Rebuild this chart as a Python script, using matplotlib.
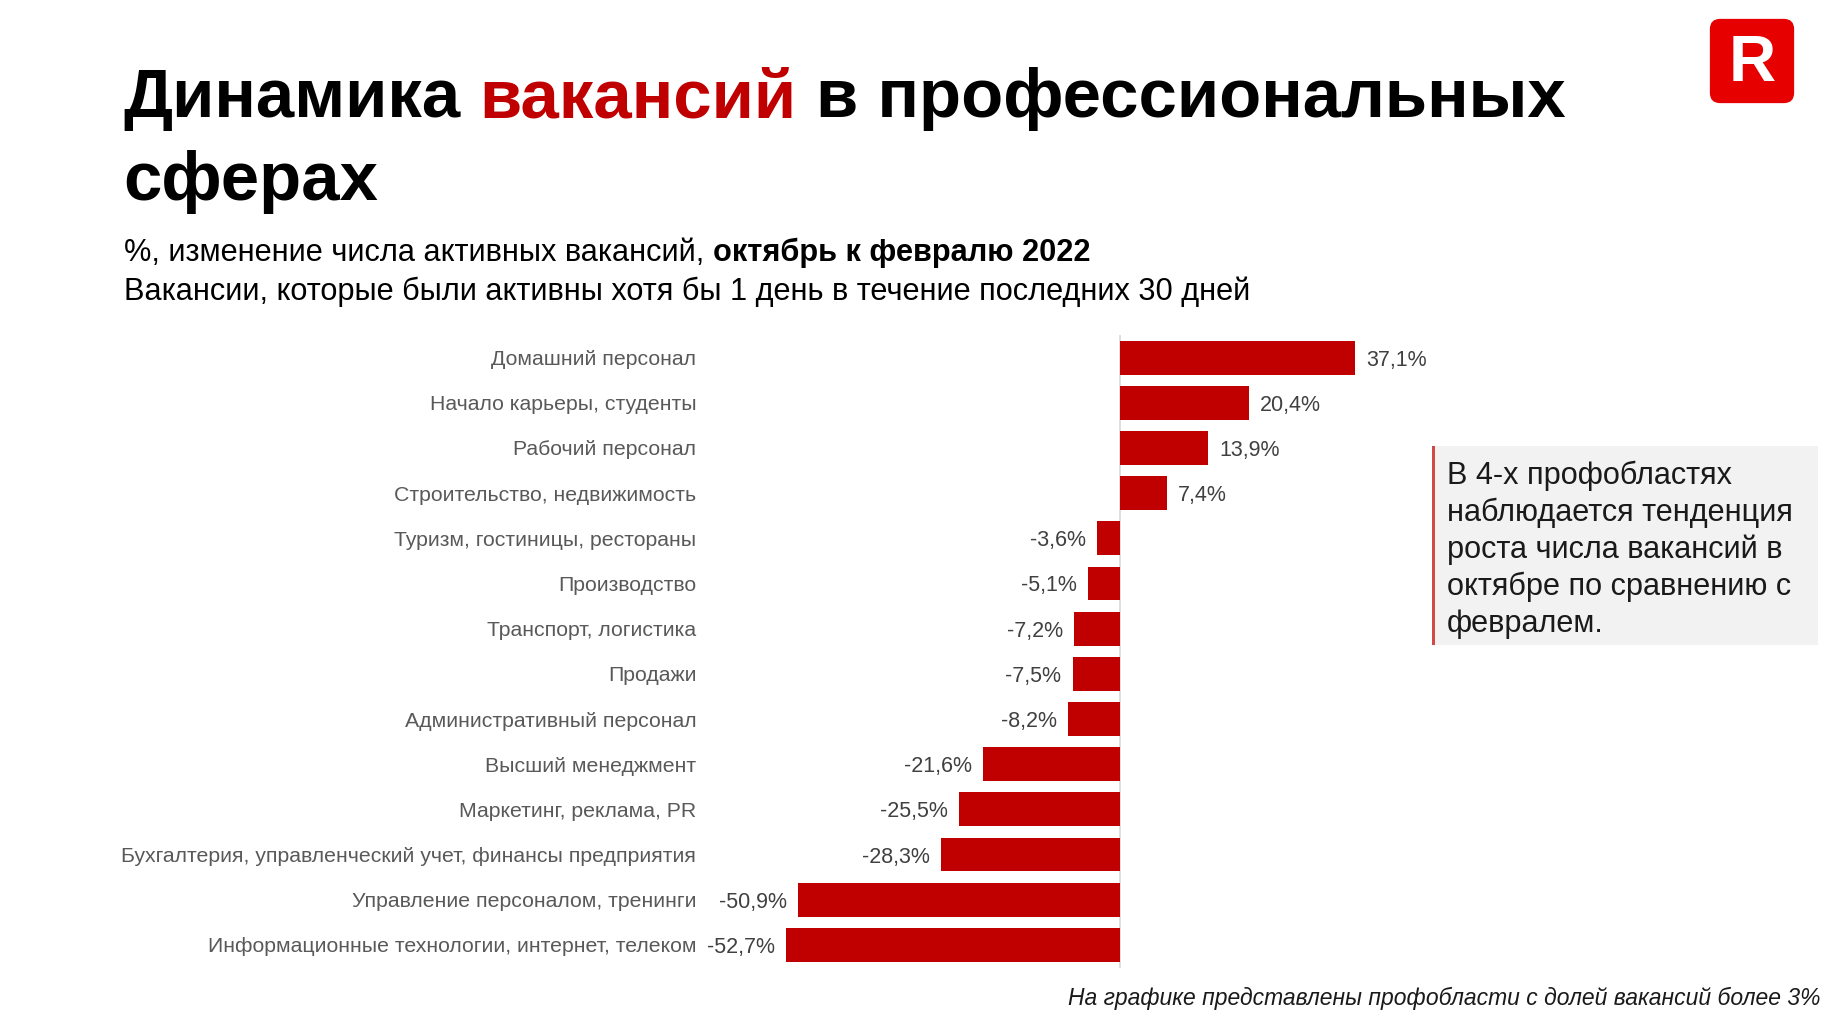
import matplotlib
matplotlib.use('Agg')
import matplotlib.pyplot as plt
from matplotlib.patches import Rectangle, FancyBboxPatch
import numpy as np

plt.rcParams['font.family'] = ['Liberation Sans', 'DejaVu Sans']

# данные
categories = [
    'Домашний персонал',
    'Начало карьеры, студенты',
    'Рабочий персонал',
    'Строительство, недвижимость',
    'Туризм, гостиницы, рестораны',
    'Производство',
    'Транспорт, логистика',
    'Продажи',
    'Административный персонал',
    'Высший менеджмент',
    'Маркетинг, реклама, PR',
    'Бухгалтерия, управленческий учет, финансы предприятия',
    'Управление персоналом, тренинги',
    'Информационные технологии, интернет, телеком',
]
values = [37.1, 20.4, 13.9, 7.4, -3.6, -5.1, -7.2, -7.5, -8.2,
          -21.6, -25.5, -28.3, -50.9, -52.7]

title_parts = [('Динамика', 'black'), ('вакансий', '#c00000'),
               ('в профессиональных', 'black')]
title_line2 = 'сферах'
subtitle_parts = [('%, изменение числа активных вакансий,', 'normal'),
                  ('октябрь к февралю 2022', 'bold')]
subtitle_line2 = 'Вакансии, которые были активны хотя бы 1 день в течение последних 30 дней'
note_lines = ['В 4-х профобластях', 'наблюдается тенденция',
              'роста числа вакансий в', 'октябре по сравнению с', 'февралем.']
footnote = 'На графике представлены профобласти с долей вакансий более 3%'

W, H = 1834, 1023
BAR = '#c00000'

fig = plt.figure(figsize=(W / 100, H / 100), dpi=100)
renderer = fig.canvas.get_renderer()


def px(x, y):
    return x / W, 1 - y / H


def space_width(size, weight):
    a = fig.text(0, 0, 'ДД', fontsize=size, fontweight=weight)
    b = fig.text(0, 0, 'Д Д', fontsize=size, fontweight=weight)
    w = b.get_window_extent(renderer).width - a.get_window_extent(renderer).width
    a.remove()
    b.remove()
    return w


def pieces(x, y, parts, size):
    for txt, color, weight in parts:
        t = fig.text(*px(x, y), txt, fontsize=size, color=color,
                     fontweight=weight, va='baseline', ha='left')
        bb = t.get_window_extent(renderer)
        x = bb.x1 + space_width(size, weight)


# заголовок
tsize = 49.6
pieces(123, 117, [(t, c, 'bold') for t, c in title_parts], tsize)
fig.text(*px(123, 200), title_line2, fontsize=tsize, fontweight='bold',
         va='baseline')

# подзаголовок
ssize = 22.15
pieces(124, 261, [(t, 'black', w) for t, w in subtitle_parts], ssize)
fig.text(*px(124, 300), subtitle_line2, fontsize=ssize, va='baseline')

# логотип
lax = fig.add_axes([1709 / W, 1 - 104 / H, 86 / W, 86 / H])
lax.set_xlim(0, 1)
lax.set_ylim(0, 1)
lax.axis('off')
lax.add_patch(FancyBboxPatch((0.01, 0.01), 0.98, 0.98,
                             boxstyle='round,pad=0,rounding_size=0.12',
                             fc='#e60000', ec='none'))
lax.text(0.5, 0.47, 'R', color='white', fontsize=47, fontweight='bold',
         ha='center', va='center')

# график
ax_left, ax_right = 706, 1405
ax_top, ax_bot = 335, 967.5
ax = fig.add_axes([ax_left / W, 1 - ax_bot / H, (ax_right - ax_left) / W,
                   (ax_bot - ax_top) / H])
y = np.arange(len(categories))
ax.barh(y, values, height=0.75, color=BAR)
ax.set_xlim((ax_left - 1120) / 6.33, (ax_right - 1120) / 6.33)
ax.set_ylim(len(categories) - 0.5, -0.5)
ax.axvline(0, color='#d9d9d9', lw=1.2, zorder=0)
for s in ax.spines.values():
    s.set_visible(False)
ax.set_xticks([])
ax.set_yticks(y)
ax.set_yticklabels(categories, fontsize=15.3, color='#595959')
ax.tick_params(axis='y', length=0, pad=7)

for yi, v in zip(y, values):
    lbl = f'{v:.1f}%'.replace('.', ',')
    off = 8 if v > 0 else -8
    ax.annotate(lbl, (v, yi), xytext=(off, 0), textcoords='offset points',
                ha='left' if v > 0 else 'right', va='center_baseline',
                fontsize=15.5, color='#404040')

# выноска
fig.patches.append(Rectangle(px(1433, 645), 385 / W, 199 / H,
                             transform=fig.transFigure, fc='#f2f2f2', ec='none'))
fig.patches.append(Rectangle(px(1432, 645), 3 / W, 199 / H,
                             transform=fig.transFigure, fc='#d04a4a', ec='none'))
for i, line in enumerate(note_lines):
    fig.text(*px(1447, 484 + 37 * i), line, fontsize=22.1, color='#1a1a1a',
             va='baseline', ha='left')

# сноска
fig.text(*px(1820, 1005), footnote, fontsize=16.5, style='italic',
         ha='right', va='baseline', color='#1a1a1a')

fig.savefig('out.png', dpi=100)
